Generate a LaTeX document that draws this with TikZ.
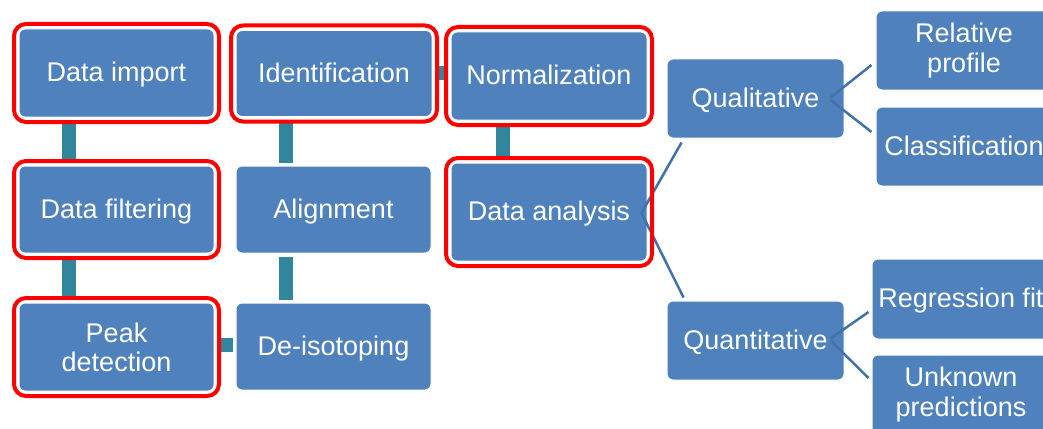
\documentclass[tikz,border=0pt]{standalone}
\usepackage{fontspec}
\setmainfont{Liberation Sans}
\usetikzlibrary{fit,calc}
\definecolor{boxblue}{HTML}{4F81BD}
\definecolor{linkteal}{HTML}{31859C}
\definecolor{branchblue}{HTML}{4272A8}
\definecolor{hlred}{HTML}{FF0000}
\begin{document}
\begin{tikzpicture}[x=1pt,y=-1pt,
  box/.style={rectangle, rounded corners=6pt, fill=boxblue, draw=white, line width=1pt,
    text=white, font=\fontsize{27}{29.3}\selectfont, align=center, inner sep=0pt},
  oneline/.style={text height=17pt, text depth=0pt},
  hl/.style={draw=hlred, line width=4pt, rounded corners=12pt, inner sep=4.5pt},
  link/.style={draw=linkteal, line width=14pt},
  branch/.style={draw=branchblue, line width=2.5pt}]
\useasboundingbox (0,0) rectangle (1043,428);
\clip (0,0) rectangle (1043,428);
\fill[white] (0,0) rectangle (1043,428);

% boxes
\node[box, oneline, minimum width=195pt, minimum height=88pt] (di) at (116.5,73) {Data import};
\node[box, oneline, minimum width=196pt, minimum height=86pt] (idf) at (334,73.5) {Identification};
\node[box, oneline, minimum width=195pt, minimum height=87pt] (df) at (116.5,209.5) {Data filtering};
\node[box, oneline, minimum width=195pt, minimum height=87pt] (al) at (333.5,209.5) {Alignment};
\node[box, minimum width=195pt, minimum height=88pt] (pd) at (116.5,347) {Peak\\detection};
\node[box, oneline, minimum width=195pt, minimum height=87pt] (deiso) at (333.5,346.5) {De-isotoping};
\node[box, oneline, minimum width=196pt, minimum height=88pt] (norm) at (549,76) {Normalization};
\node[box, oneline, minimum width=196pt, minimum height=98pt] (da) at (549,212) {Data analysis};
\node[box, oneline, minimum width=177pt, minimum height=79pt] (qual) at (755.5,98.5) {Qualitative};
\node[box, oneline, minimum width=177pt, minimum height=79pt] (quant) at (755.5,340.5) {Quantitative};
\node[box, minimum width=176pt, minimum height=79pt] (rel) at (964,50.5) {Relative\\profile};
\node[box, oneline, minimum width=176pt, minimum height=79pt] (cls) at (964,146.5) {Classification};
\node[box, oneline, minimum width=178pt, minimum height=80pt] (reg) at (961,299) {Regression fit};
\node[box, minimum width=178pt, minimum height=79pt] (unk) at (961,394.5) {Unknown\\predictions};

% teal links
\draw[link] ($(di.south west)+(50.5,3)$) -- ($(df.north west)+(50.5,-3)$);
\draw[link] ($(df.south west)+(50.5,3)$) -- ($(pd.north west)+(50.5,-3)$);
\draw[link] ($(idf.south west)+(50,3)$) -- ($(al.north west)+(50,-3)$);
\draw[link] ($(al.south west)+(50,3)$) -- ($(deiso.north west)+(50,-3)$);
\draw[link] ($(pd.east)+(3,-2)$) -- ($(deiso.west)+(-3,-1.5)$);
\draw[link] ($(idf.east)+(3,-0.5)$) -- ($(norm.west)+(-3,-3)$);
\draw[link] ($(norm.south west)+(52.5,3)$) -- ($(da.north west)+(52.5,-3)$);

% branch lines
\draw[branch] ($(da.east)+(-6,1)$) -- ($(qual.south west)+(15,4)$);
\draw[branch] ($(da.east)+(-6,1)$) -- ($(quant.north west)+(17,-3)$);
\draw[branch] ($(qual.east)+(-14,-1)$) -- ($(rel.west)+(-4,14.5)$);
\draw[branch] ($(qual.east)+(-14,1.5)$) -- ($(cls.west)+(-4,-14.5)$);
\draw[branch] ($(quant.east)+(-14,-2)$) -- ($(reg.west)+(-3,13)$);
\draw[branch] ($(quant.east)+(-14,0)$) -- ($(unk.west)+(-3,-16.5)$);

% red highlights
\node[hl, fit=(di)] (hdi) {};
\node[hl, fit=(idf)] (hidf) {};
\node[hl, fit=(df)] (hdf) {};
\node[hl, fit=(pd)] (hpd) {};
\node[hl, fit=(norm)] (hnorm) {};
\node[hl, fit=(da)] (hda) {};
\end{tikzpicture}
\end{document}
